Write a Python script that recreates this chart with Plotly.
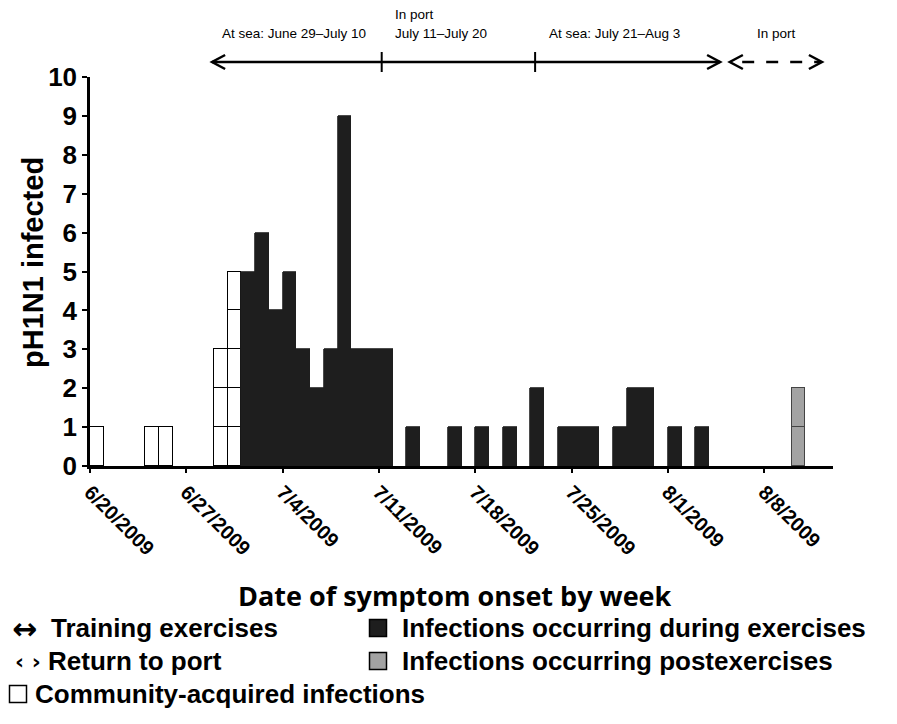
import pandas as pd
import plotly.graph_objects as go

# ---------------- data ----------------
start_date = "2009-06-20"

community_dates = ["2009-06-20", "2009-06-24", "2009-06-25", "2009-06-29", "2009-06-30"]
community_counts = [1, 1, 1, 3, 5]

exercise_dates = ["2009-07-01", "2009-07-02", "2009-07-03", "2009-07-04", "2009-07-05",
                  "2009-07-06", "2009-07-07", "2009-07-08", "2009-07-09", "2009-07-10",
                  "2009-07-11", "2009-07-13", "2009-07-16", "2009-07-18", "2009-07-20",
                  "2009-07-22", "2009-07-24", "2009-07-25", "2009-07-26", "2009-07-28",
                  "2009-07-29", "2009-07-30", "2009-08-01", "2009-08-03"]
exercise_counts = [5, 6, 4, 5, 3, 2, 3, 9, 3, 3, 3, 1, 1, 1, 1, 2, 1, 1, 1, 1, 2, 2, 1, 1]

post_dates = ["2009-08-10"]
post_counts = [2]

tick_dates = ["2009-06-20", "2009-06-27", "2009-07-04", "2009-07-11",
              "2009-07-18", "2009-07-25", "2009-08-01", "2009-08-08"]
tick_labels = ["6/20/2009", "6/27/2009", "7/4/2009", "7/11/2009",
               "7/18/2009", "7/25/2009", "8/1/2009", "8/8/2009"]

period_labels = ["At sea: June 29\u2013July 10", "July 11\u2013July 20",
                 "At sea: July 21\u2013Aug 3", "In port"]
period_top_label = "In port"
# period boundaries (days since start date)
period_bounds = [8.87, 21.2, 32.35, 45.8]
port_span = [46.5, 53.2]

legend_texts = ["Training exercises", "Return to port",
                "Community-acquired infections",
                "Infections occurring during exercises",
                "Infections occurring postexercises"]
legend_marks = ["\u2194", "\u2039 \u203a"]

x_title = "Date of symptom onset by week"
y_title = "pH1N1 infected"

# ---------------- helpers ----------------
t0 = pd.Timestamp(start_date)


def day(d):
    return (pd.Timestamp(d) - t0).days


WHITE = "#ffffff"
DARK = "#1e1e1e"
GREY = "#a3a3a3"

fig = go.Figure()


def add_cells(dates, counts, fill, line_color, lw):
    days = [day(d) for d in dates]
    for k in range(1, max(counts) + 1):
        xs = [dd + 0.5 for dd, c in zip(days, counts) if c >= k]
        fig.add_trace(go.Bar(
            x=xs, y=[1] * len(xs), width=1,
            marker=dict(color=fill, line=dict(color=line_color, width=lw)),
            showlegend=False, hoverinfo="skip"))


add_cells(community_dates, community_counts, WHITE, "#000000", 1.5)
fig.add_trace(go.Bar(
    x=[day(d) + 0.5 for d in exercise_dates], y=exercise_counts, width=1,
    marker=dict(color=DARK, line=dict(color=DARK, width=0.8)),
    showlegend=False, hoverinfo="skip"))
add_cells(post_dates, post_counts, GREY, "#444444", 1.2)

# plot area in reference pixels; page body adds an 8px offset
OFF = 8
L, R, T, B = 90, 833, 77, 466
W, H = 881, 708


def py(p):  # reference pixel y -> paper y
    return (B - p) / (B - T)


def px(p):  # reference pixel x -> paper x
    return (p - L) / (R - L)


shapes = []
ann = []

# ---- top period arrows ----
ya = py(62)
hh = 7 / (B - T)
hl = 0.95
tk = 10 / (B - T)
a0, a1, a2, a3 = period_bounds
shapes.append(dict(type="line", xref="x", yref="paper", x0=a0, x1=a3, y0=ya, y1=ya,
                   line=dict(color="black", width=2.5)))
for xb in (a1, a2):
    shapes.append(dict(type="line", xref="x", yref="paper", x0=xb, x1=xb, y0=ya - tk, y1=ya + tk,
                       line=dict(color="black", width=2)))
for tip, sgn in ((a0, 1), (a3, -1), (port_span[0], 1), (port_span[1], -1)):
    shapes.append(dict(type="path", xref="x", yref="paper",
                       path=f"M {tip + sgn * hl} {ya + hh} L {tip} {ya} L {tip + sgn * hl} {ya - hh}",
                       line=dict(color="black", width=2.5)))
p0, p1 = port_span
shapes.append(dict(type="line", xref="x", yref="paper", x0=p0 + 0.9, x1=p1 - 0.1, y0=ya, y1=ya,
                   line=dict(color="black", width=2.5, dash="12px,12px")))

small = dict(family="Liberation Sans, Arial", size=13.5, color="black")
ann.append(dict(xref="x", yref="paper", x=14.86, y=py(33), text=period_labels[0],
                showarrow=False, xanchor="center", yanchor="middle", font=small))
ann.append(dict(xref="x", yref="paper", x=22.0, y=py(15), text=period_top_label,
                showarrow=False, xanchor="left", yanchor="middle", font=small))
ann.append(dict(xref="x", yref="paper", x=22.0, y=py(33), text=period_labels[1],
                showarrow=False, xanchor="left", yanchor="middle", font=small))
ann.append(dict(xref="x", yref="paper", x=33.2, y=py(33), text=period_labels[2],
                showarrow=False, xanchor="left", yanchor="middle", font=small))
ann.append(dict(xref="x", yref="paper", x=48.3, y=py(33), text=period_labels[3],
                showarrow=False, xanchor="left", yanchor="middle", font=small))

# ---- axis titles ----
ann.append(dict(xref="paper", yref="paper", x=px(33), y=py(263), text=y_title, textangle=-90,
                showarrow=False, xanchor="center", yanchor="middle",
                font=dict(family="Liberation Sans, Arial", size=29, color="black", weight="bold")))
ann.append(dict(xref="paper", yref="paper", x=px(455), y=py(595), text=x_title,
                showarrow=False, xanchor="center", yanchor="middle",
                font=dict(family="Open Sans", size=27, color="black", weight="bold")))

# ---- legend ----
lf = dict(family="Liberation Sans, Arial", size=26, color="black", weight="bold")
rows = [628, 661, 694]
ann.append(dict(xref="paper", yref="paper", x=px(10), y=py(rows[0]), text=legend_marks[0],
                showarrow=False, xanchor="left", yanchor="middle",
                font=dict(family="DejaVu Sans", size=30, color="black", weight="bold")))
ann.append(dict(xref="paper", yref="paper", x=px(13), y=py(rows[1]), text=legend_marks[1],
                showarrow=False, xanchor="left", yanchor="middle",
                font=dict(family="DejaVu Sans", size=22, color="black", weight="bold")))
ann.append(dict(xref="paper", yref="paper", x=px(49), y=py(rows[0]), text=legend_texts[0],
                showarrow=False, xanchor="left", yanchor="middle", font=lf))
ann.append(dict(xref="paper", yref="paper", x=px(46), y=py(rows[1]), text=legend_texts[1],
                showarrow=False, xanchor="left", yanchor="middle", font=lf))
ann.append(dict(xref="paper", yref="paper", x=px(33), y=py(rows[2]), text=legend_texts[2],
                showarrow=False, xanchor="left", yanchor="middle", font=lf))
ann.append(dict(xref="paper", yref="paper", x=px(400), y=py(rows[0]), text=legend_texts[3],
                showarrow=False, xanchor="left", yanchor="middle", font=lf))
ann.append(dict(xref="paper", yref="paper", x=px(400), y=py(rows[1]), text=legend_texts[4],
                showarrow=False, xanchor="left", yanchor="middle", font=lf))

sq = 17
for (cx, cy, fill) in [(378, rows[0], DARK), (378, rows[1], GREY), (18, rows[2], WHITE)]:
    shapes.append(dict(type="rect", xref="paper", yref="paper",
                       x0=px(cx - sq / 2), x1=px(cx + sq / 2),
                       y0=py(cy + sq / 2), y1=py(cy - sq / 2),
                       fillcolor=fill, line=dict(color="black", width=1.5)))

fig.update_layout(
    width=W, height=H,
    margin=dict(l=L - OFF, r=W - (R - OFF), t=T - OFF, b=H - (B - OFF), pad=0),
    barmode="stack", bargap=0,
    plot_bgcolor="white", paper_bgcolor="white",
    shapes=shapes, annotations=ann,
    showlegend=False,
)
fig.update_xaxes(
    range=[0, 54], tickvals=[day(d) for d in tick_dates], ticktext=tick_labels,
    tickangle=45, ticks="outside", ticklen=4, tickwidth=2, tickcolor="black",
    showline=True, linewidth=2.5, linecolor="black", showgrid=False, zeroline=False,
    tickfont=dict(family="Liberation Sans, Arial", size=20, color="black", weight="bold"),
)
fig.update_yaxes(
    range=[0, 10], dtick=1, ticks="outside", ticklen=5, tickwidth=2, tickcolor="black",
    showline=True, linewidth=2.5, linecolor="black", showgrid=False, zeroline=False,
    tickfont=dict(family="Liberation Sans, Arial", size=26, color="black", weight="bold"),
)

fig.write_html("out.html")
